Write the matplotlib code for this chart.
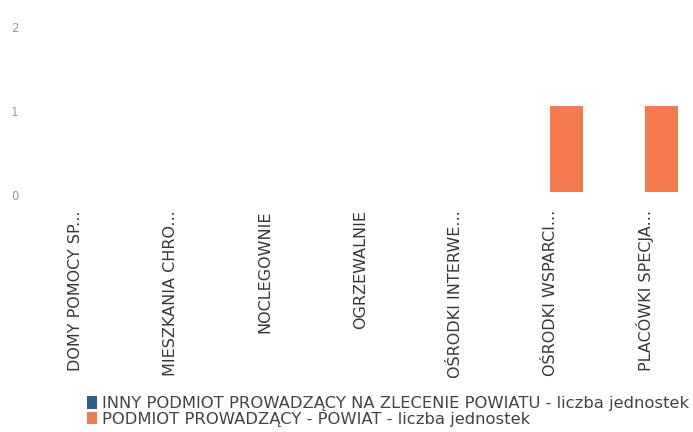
import matplotlib
matplotlib.use("Agg")
import matplotlib.pyplot as plt
import numpy as np

categories = ["DOMY POMOCY SP...", "MIESZKANIA CHRO...", "NOCLEGOWNIE", "OGRZEWALNIE",
              "OŚRODKI INTERWE...", "OŚRODKI WSPARCI...", "PLACÓWKI SPECJA..."]
series_names = ["INNY PODMIOT PROWADZĄCY NA ZLECENIE POWIATU - liczba jednostek",
                "PODMIOT PROWADZĄCY - POWIAT - liczba jednostek"]
inny_values = [0, 0, 0, 0, 0, 0, 0]
powiat_values = [0, 0, 0, 0, 0, 1, 1]
yticks = [0, 1, 2]

plt.rcParams['font.family'] = ['DejaVu Sans']

fig = plt.figure(figsize=(6.93, 4.32), dpi=100)
ax = fig.add_axes([27.5/693, 1-192/432, 1-27.5/693, (192-20)/432])

x = np.arange(len(categories))
w = 0.34
ax.bar(x - 0.17, inny_values, w, color="#2e5f8f", label=series_names[0])
ax.bar(x + 0.17, powiat_values, w, color="#f47a50", label=series_names[1])

ax.set_xlim(-0.5, len(categories) - 0.5)
ax.set_ylim(0, 2)
ax.set_yticks(yticks)
ax.set_yticklabels([])
for v, dy in zip(yticks, [-4, -6, -8]):
    ax.annotate(str(v), xy=(0, v), xycoords=('axes fraction', 'data'),
                xytext=(-13, dy), textcoords='offset pixels',
                ha='center', va='center', fontsize=8.5, color="#999999",
                annotation_clip=False)
ax.set_xticks(x)
ax.set_xticklabels(categories, rotation=90, fontsize=11.5, color="#383838")
ax.tick_params(axis='both', length=0)
ax.tick_params(axis='x', pad=13)
for s in ax.spines.values():
    s.set_visible(False)

leg = fig.legend(loc="lower left", bbox_to_anchor=(76/693, -0.014), frameon=False,
                 fontsize=11.8, handlelength=0.6, handleheight=0.8, handletextpad=0.3,
                 labelspacing=0.02, borderpad=0.2)
for t in leg.get_texts():
    t.set_color("#444444")

fig.savefig("out.png", dpi=100)
